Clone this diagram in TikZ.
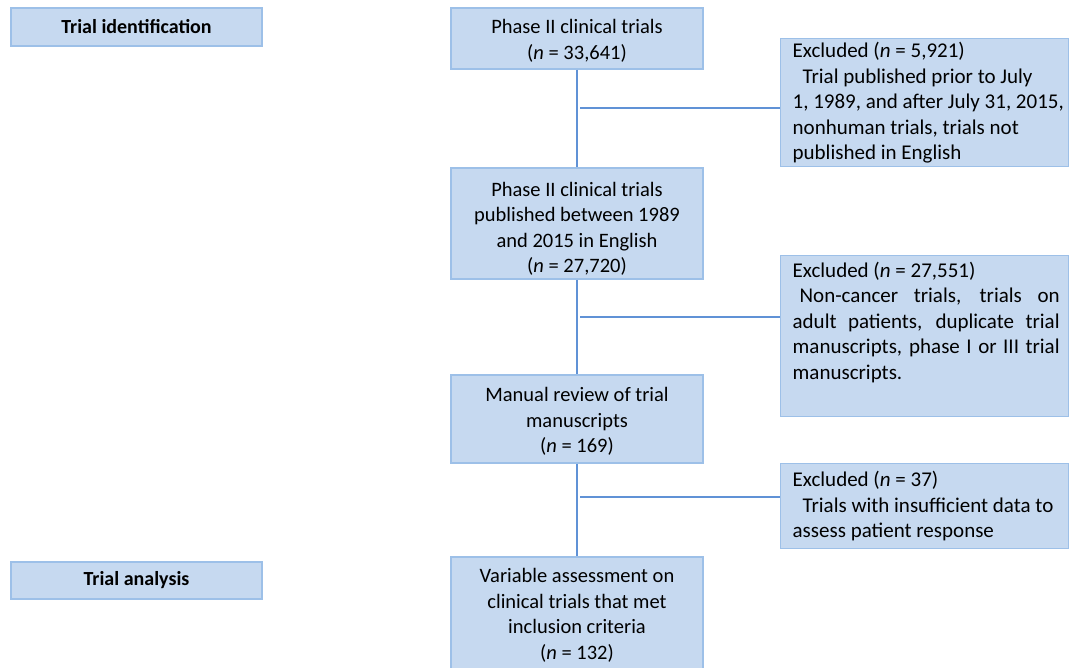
\documentclass[tikz,border=0pt]{standalone}
\usepackage{fontspec}
\setmainfont{Carlito}
\usetikzlibrary{positioning}

\definecolor{boxfill}{RGB}{198,217,240}
\definecolor{boxline}{RGB}{157,192,232}
\definecolor{linkline}{RGB}{96,146,214}

\newcommand*{\bodyfont}{\fontsize{20.5}{25.5}\selectfont}
\newcommand*{\exclfont}{\fontsize{21}{25.5}\selectfont}

\tikzset{
	flowbox/.style={draw=boxline, fill=boxfill, line width=1.3pt, minimum width=252pt,
		align=center, inner sep=3pt, font=\bodyfont},
	exclbox/.style={draw=boxline, fill=boxfill, line width=1.3pt, text width=284pt,
		inner xsep=2pt, inner ysep=3pt, align=flush left, anchor=north west, font=\exclfont},
	stagebox/.style={draw=boxline, fill=boxfill, line width=1.3pt, minimum width=251pt,
		font=\fontsize{20}{24}\selectfont\bfseries},
	link/.style={draw=linkline, line width=1.2pt}
}

\begin{document}
\begin{tikzpicture}[x=1pt, y=-1pt]
	\useasboundingbox (0,0) rectangle (1070,667);

	%stage labels on the left
	\node[stagebox, minimum height=38pt] (ident) at (136.5,27) {Trial identification};
	\node[stagebox, minimum height=37pt] (analysis) at (136.5,580.5) {Trial analysis};

	%main column
	\node[flowbox, minimum height=61pt] (phase1) at (577,38.5)
		{\rule{0pt}{19pt}Phase II clinical trials\\(\textit{n} = 33,641)};
	\node[flowbox, minimum height=111pt] (phase2) at (577,223.5)
		{\rule{0pt}{25pt}Phase II clinical trials\\published between 1989\\and 2015 in English\\(\textit{n} = 27,720)};
	\node[flowbox, minimum height=88pt] (review) at (577,419)
		{\rule{0pt}{19pt}Manual review of trial\\manuscripts\\(\textit{n} = 169)};
	\node[flowbox, minimum height=112pt] (assess) at (577,613)
		{\rule{0pt}{19pt}Variable assessment on\\clinical trials that met\\inclusion criteria\\(\textit{n} = 132)};

	%excluded boxes
	\node[exclbox, minimum height=128pt] (excl1) at (780,38)
		{\hspace*{10pt}Excluded (\textit{n} = 5,921)\\
		\hspace*{20pt}Trial published prior to July\\
		\hspace*{10pt}1, 1989, and after July 31, 2015,\\
		\hspace*{10pt}nonhuman trials, trials not\\
		\hspace*{10pt}published in English};
	\node[exclbox, minimum height=161pt] (excl2) at (780,255)
		{\hspace*{10pt}Excluded (\textit{n} = 27,551)\\
		\hspace*{10pt}\makebox[267pt][s]{\hspace*{7pt}Non-cancer trials, trials on}\\
		\hspace*{10pt}\makebox[267pt][s]{adult patients, duplicate trial}\\
		\hspace*{10pt}\makebox[267pt][s]{manuscripts, phase I or III trial}\\
		\hspace*{10pt}manuscripts.\\[6pt]\mbox{}};
	\node[exclbox, minimum height=85pt] (excl3) at (780,463)
		{\hspace*{10pt}Excluded (\textit{n} = 37)\\
		\hspace*{20pt}Trials with insufficient data to\\
		\hspace*{10pt}assess patient response};

	%vertical links
	\draw[link] (phase1) -- (phase2);
	\draw[link] (phase2) -- (review);
	\draw[link] (review) -- (assess);

	%side branches
	\coordinate (b1) at (580,108);
	\coordinate (b2) at (580,317);
	\coordinate (b3) at (580,497);
	\draw[link] (b1) -- (b1 -| excl1.west);
	\draw[link] (b2) -- (b2 -| excl2.west);
	\draw[link] (b3) -- (b3 -| excl3.west);

\end{tikzpicture}
\end{document}
